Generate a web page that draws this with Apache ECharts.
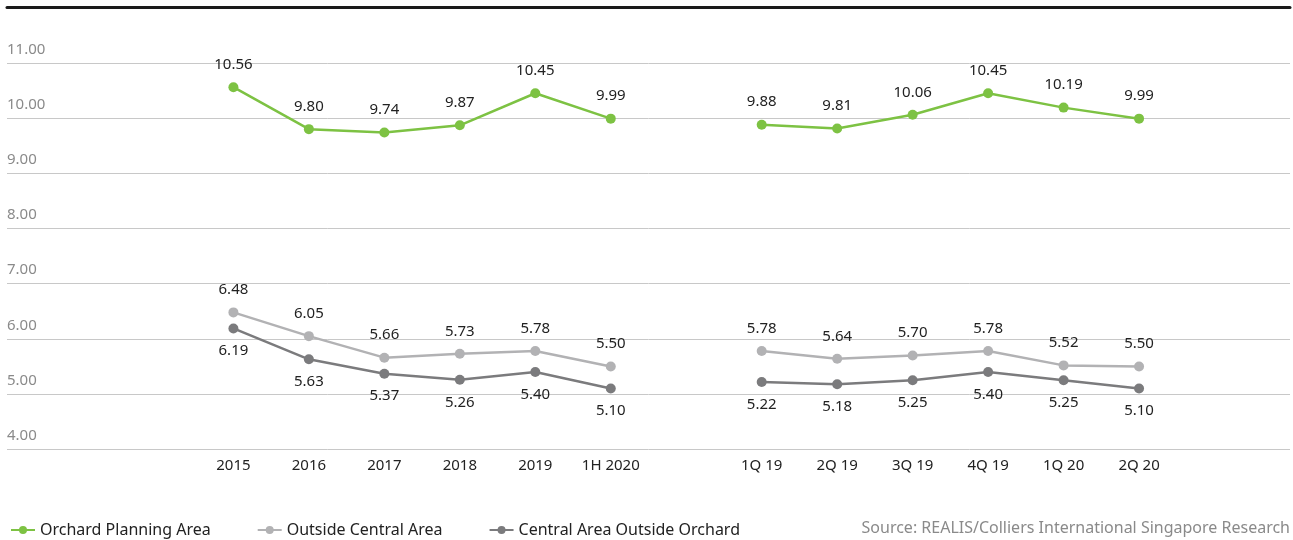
<!DOCTYPE html>
<html>
<head>
<meta charset="utf-8">
<script src="https://cdn.jsdelivr.net/npm/echarts@6/dist/echarts.min.js"></script>
<style>
  html, body { margin: 0; padding: 0; background: #fff; }
  #main { width: 1293px; height: 540px; }
</style>
</head>
<body>
<div id="main"></div>
<script>
// annual / half-year categories and quarterly categories
var yearCats = ['2015', '2016', '2017', '2018', '2019', '1H 2020'];
var quarterCats = ['1Q 19', '2Q 19', '3Q 19', '4Q 19', '1Q 20', '2Q 20'];

var orchardYear = [10.56, 9.80, 9.74, 9.87, 10.45, 9.99];
var orchardQtr = [9.88, 9.81, 10.06, 10.45, 10.19, 9.99];
var outsideYear = [6.48, 6.05, 5.66, 5.73, 5.78, 5.50];
var outsideQtr = [5.78, 5.64, 5.70, 5.78, 5.52, 5.50];
var centralYear = [6.19, 5.63, 5.37, 5.26, 5.40, 5.10];
var centralQtr = [5.22, 5.18, 5.25, 5.40, 5.25, 5.10];

var yTicks = [4, 5, 6, 7, 8, 9, 10, 11, 12];

// 3 empty slots before, 1 between, 2 after
function build(a, b, fill) {
  return [fill, fill, fill].concat(a, [fill], b, [fill, fill]);
}
var cats = build(yearCats, quarterCats, '');
for (var i = 0; i < cats.length; i++) {
  if (cats[i] === '') cats[i] = '_' + i;
}

var FONT = 'Noto Sans';
var green = '#7dc243', light = '#b2b2b4', dark = '#7b7b7d';

function lineSeries(name, data, color, pos) {
  return {
    name: name,
    type: 'line',
    data: data,
    symbol: 'circle',
    symbolSize: 10,
    connectNulls: false,
    lineStyle: { width: 2.5, color: color },
    itemStyle: { color: color },
    label: {
      show: true,
      position: pos,
      distance: 10,
      color: '#222',
      fontFamily: FONT,
      fontSize: 15,
      formatter: function (p) { return p.value == null ? '' : p.value.toFixed(2); }
    }
  };
}

var myChart = echarts.init(document.getElementById('main'));

var option = {
  backgroundColor: '#fff',
  animation: false,
  grid: { left: 7, right: 0, top: 7.7, bottom: 90.7 },
  xAxis: [{
    type: 'category',
    data: cats,
    boundaryGap: false,
    axisLine: { show: false },
    axisTick: { show: false },
    splitLine: { show: false },
    axisLabel: {
      interval: 0,
      margin: 9,
      color: '#222',
      fontFamily: FONT,
      fontSize: 15,
      formatter: function (v) { return v.charAt(0) === '_' ? '' : v; }
    }
  }, {
    type: 'category',
    position: 'top',
    data: cats,
    boundaryGap: false,
    axisLine: { show: true, lineStyle: { color: '#1a1a1a', width: 3 } },
    axisTick: { show: false },
    axisLabel: { show: false }
  }],
  yAxis: {
    type: 'value',
    min: yTicks[0],
    max: yTicks[yTicks.length - 1],
    interval: 1,
    axisLine: { show: false },
    axisTick: { show: false },
    splitLine: { lineStyle: { color: '#c8c8c8', width: 1 } },
    axisLabel: {
      inside: true,
      margin: 0,
      align: 'left',
      verticalAlign: 'bottom',
      padding: [0, 0, 6, 0],
      color: '#8a8a8a',
      fontFamily: FONT,
      fontSize: 15,
      formatter: function (v) { return v === 12 ? '' : v.toFixed(2); }
    }
  },
  legend: {
    left: 5,
    top: 517,
    itemWidth: 24,
    itemHeight: 10,
    itemGap: 46,
    textStyle: { color: '#222', fontFamily: FONT, fontSize: 16 },
    data: ['Orchard Planning Area', 'Outside Central Area', 'Central Area Outside Orchard']
  },
  graphic: [{
    type: 'text',
    right: 3,
    top: 520,
    style: {
      text: 'Source: REALIS/Colliers International Singapore Research',
      fill: '#8a8a8a',
      font: '16px "Noto Sans"'
    }
  }],
  series: [
    lineSeries('Orchard Planning Area', build(orchardYear, orchardQtr, null), green, 'top'),
    lineSeries('Outside Central Area', build(outsideYear, outsideQtr, null), light, 'top'),
    lineSeries('Central Area Outside Orchard', build(centralYear, centralQtr, null), dark, 'bottom')
  ]
};

myChart.setOption(option);
</script>
</body>
</html>
